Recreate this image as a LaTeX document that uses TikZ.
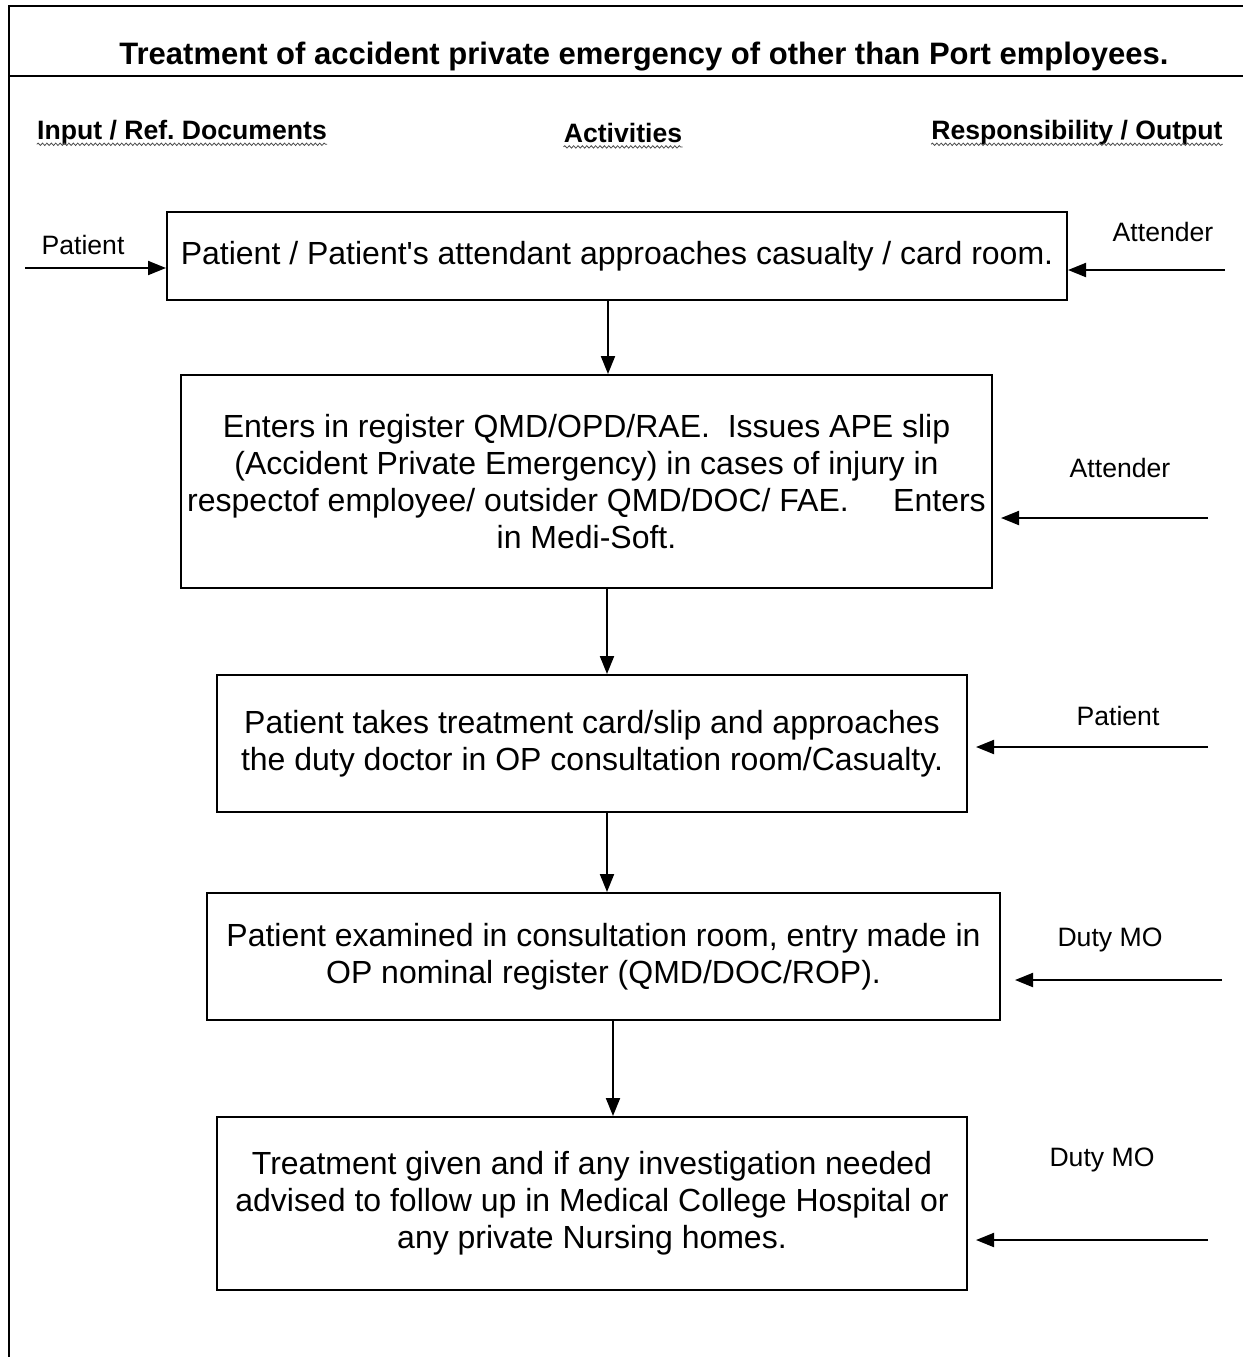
\documentclass[tikz,border=0pt]{standalone}
\usepackage{fontspec}
\setmainfont{Liberation Sans}
\usetikzlibrary{arrows.meta,decorations.pathmorphing}

\tikzset{
	stepbox/.style={draw, line width=1pt, align=center, inner sep=0pt,
		font=\fontsize{16}{18.5}\selectfont},
	sidelabel/.style={inner sep=0pt, font=\fontsize{13.3}{15}\selectfont},
	heading/.style={inner sep=0pt, font=\fontsize{13.3}{15}\selectfont\bfseries},
	arr/.style={line width=1pt, -{Triangle[length=9pt,width=7pt]}},
	squiggle/.style={decorate, decoration={snake, segment length=2.2pt, amplitude=0.6pt}, line width=0.4pt, black!70}
}

\begin{document}
	\begin{tikzpicture}[x=0.5pt, y=-0.5pt]
		\useasboundingbox (0,0) rectangle (1243,1357);
		% frame
		\draw [line width=1.3pt] (9,1357) -- (9,6) -- (1243,6);
		\draw [line width=1.3pt] (9,76) -- (1243,76);
		\node [inner sep=0pt, font=\fontsize{15.5}{18}\selectfont\bfseries] (title) at (644,57) {Treatment of accident private emergency of other than Port employees.};
		
		% column headings
		\node [heading] (hin) at (182,133) {Input / Ref.\ Documents};
		\node [heading] (hact) at (623,133) {Activities};
		\node [heading] (hout) at (1077,133) {Responsibility / Output};
		\foreach \h in {hin,hact,hout}
		\draw [squiggle] ([yshift=-2.2pt]\h.base west) -- ([yshift=-2.2pt]\h.base east);
		
		% activities
		\node [stepbox, minimum width=450pt, minimum height=44pt] (b1) at (617,256) {Patient / Patient\textquotesingle s attendant approaches casualty / card room.};
		\node [stepbox, minimum width=405.5pt, minimum height=106.5pt] (b2) at (586.5,481.5) {Enters in register QMD/OPD/RAE.\ \ Issues APE slip\\(Accident Private Emergency) in cases of injury in\\respectof employee/ outsider QMD/DOC/ FAE.\ \ \ \ \ Enters\\in Medi-Soft.};
		\node [stepbox, minimum width=375pt, minimum height=68.5pt] (b3) at (592,743.5) {Patient takes treatment card/slip and approaches\\the duty doctor in OP consultation room/Casualty.};
		\node [stepbox, minimum width=396.5pt, minimum height=63.5pt] (b4) at (603.5,956.5) {Patient examined in consultation room, entry made in\\OP nominal register (QMD/DOC/ROP).};
		\node [stepbox, minimum width=375pt, minimum height=86.5pt] (b5) at (592,1203.5) {Treatment given and if any investigation needed\\advised to follow up in Medical College Hospital or\\any private Nursing homes.};
		
		% flow down
		\coordinate (v1) at (608,0);
		\coordinate (v2) at (607,0);
		\coordinate (v3) at (607,0);
		\coordinate (v4) at (613,0);
		\draw [arr] (b1.south -| v1) -- (b2.north -| v1);
		\draw [arr] (b2.south -| v2) -- (b3.north -| v2);
		\draw [arr] (b3.south -| v3) -- (b4.north -| v3);
		\draw [arr] (b4.south -| v4) -- (b5.north -| v4);
		
		% inputs and responsibilities
		\node [sidelabel] (pin) at (83,245) {Patient};
		\coordinate (l1) at (25,268);
		\draw [arr] (l1) -- (b1.west |- l1);
		
		\node [sidelabel] (r1t) at (1163,232) {Attender};
		\node [sidelabel] (r2t) at (1120,468) {Attender};
		\node [sidelabel] (r3t) at (1118,716) {Patient};
		\node [sidelabel] (r4t) at (1110,940) {Duty MO};
		\node [sidelabel] (r5t) at (1102,1160) {Duty MO};
		\coordinate (r1) at (1225,270);
		\coordinate (r2) at (1208,518);
		\coordinate (r3) at (1208,747);
		\coordinate (r4) at (1222,980);
		\coordinate (r5) at (1208,1240);
		\draw [arr] (r1) -- (b1.east |- r1);
		\draw [arr, shorten >=4pt] (r2) -- (b2.east |- r2);
		\draw [arr, shorten >=4pt] (r3) -- (b3.east |- r3);
		\draw [arr, shorten >=7pt] (r4) -- (b4.east |- r4);
		\draw [arr, shorten >=4pt] (r5) -- (b5.east |- r5);
	\end{tikzpicture}
\end{document}
